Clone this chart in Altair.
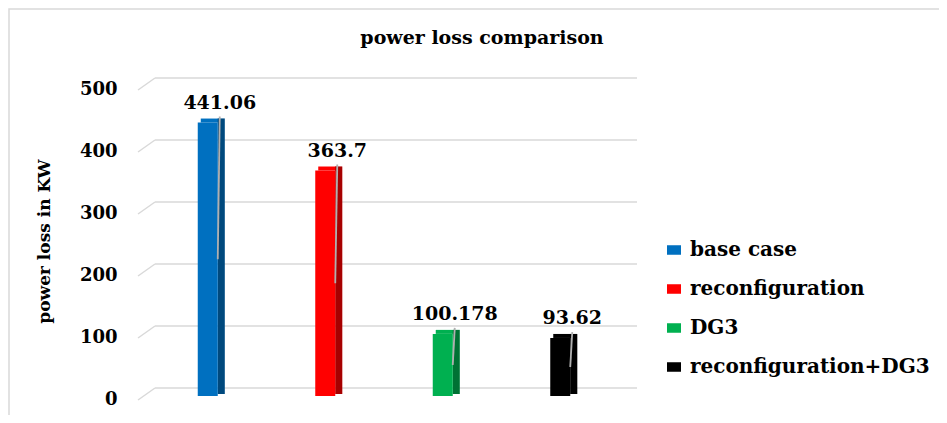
import altair as alt
import pandas as pd

# ---- data ----
categories = ["base case", "reconfiguration", "DG3", "reconfiguration+DG3"]
power_loss = [441.06, 363.7, 100.178, 93.62]
value_labels = ["441.06", "363.7", "100.178", "93.62"]
colors = ["#0070C0", "#FF0000", "#00B050", "#000000"]
y_ticks = [0, 100, 200, 300, 400, 500]
chart_title = "power loss comparison"
y_title = "power loss in KW"

df = pd.DataFrame({
    "cat": categories,
    "idx": list(range(len(categories))),
    "val": power_loss,
    "half": [v / 2 for v in power_loss],
    "lab": value_labels,
})
grid_df = pd.DataFrame({"val": y_ticks})
one = pd.DataFrame({"t": [chart_title]})

FONT = "DejaVu Serif"
GRID = "#d9d9d9"

xs = alt.Scale(domain=[-0.5, 3.5], nice=False, zero=False)
ys = alt.Scale(domain=[0, 500], nice=False)
X = alt.X("idx:Q", scale=xs, axis=None)

Y_AXIS = alt.Axis(
    title=y_title, values=y_ticks, grid=False, domain=False, ticks=False, tickSize=0,
    labelFont=FONT, labelFontSize=18, labelFontWeight="bold", labelColor="#000000",
    labelPadding=27, labelOffset=3,
    titleFont=FONT, titleFontSize=17, titleFontWeight="bold", titleColor="#000000",
    titleX=-100, titleY=155, titleAngle=270, titleAlign="center", titleBaseline="middle",
)
Y = alt.Y("val:Q", scale=ys, axis=Y_AXIS)

color = alt.Color(
    "cat:N",
    scale=alt.Scale(domain=categories, range=colors),
    sort=categories,
    legend=alt.Legend(
        title=None, orient="none", legendX=520, legendY=154,
        symbolType="M-1,-0.68L1,-0.68L1,0.68L-1,0.68Z", symbolSize=196, symbolStrokeWidth=0,
        labelFont=FONT, labelFontSize=20, labelFontWeight="bold", labelColor="#000000",
        labelOffset=6, labelLimit=400, rowPadding=19,
    ),
)

frame = alt.Chart(one).mark_rect(fillOpacity=0, stroke=GRID, strokeWidth=1.5).encode(
    x=alt.value(-135), x2=alt.value(900), y=alt.value(-77), y2=alt.value(500)
)

title_text = alt.Chart(one).mark_text(
    font=FONT, fontSize=19, fontWeight="bold", color="#000000",
    align="center", baseline="alphabetic",
).encode(text="t:N", x=alt.value(338), y=alt.value(-42))

grid_back = alt.Chart(grid_df).mark_rule(color=GRID, strokeWidth=1.5, yOffset=-8).encode(
    y=Y, x=alt.value(11), x2=alt.value(493)
)
grid_slant = alt.Chart(grid_df).mark_rule(color=GRID, strokeWidth=1.5, yOffset=4, y2Offset=-8).encode(
    y=Y, y2="val:Q", x=alt.value(-6), x2=alt.value(11)
)

base = alt.Chart(df)

top_face = base.mark_bar(width=19, xOffset=2.5, yOffset=-4, y2Offset=0).encode(
    x=X, y=Y, y2="val:Q", color=color
)
side_face = base.mark_bar(width=7, xOffset=13.5, yOffset=-4, y2Offset=-2).encode(
    x=X, y=Y, y2=alt.datum(0), color=color
)
side_shade = base.mark_bar(width=7, xOffset=13.5, yOffset=-4, y2Offset=-2, color="#000000", opacity=0.35).encode(
    x=X, y=Y, y2=alt.datum(0)
)
front = base.mark_bar(width=20).encode(x=X, y=Y, y2=alt.datum(0), color=color)

leader = base.mark_rule(color="#b0b0b0", strokeWidth=1.8, xOffset=12, x2Offset=10, yOffset=-6).encode(
    x=X, x2="idx:Q", y=Y, y2="half:Q"
)

labels = base.mark_text(
    font=FONT, fontSize=19, fontWeight="bold", color="#000000",
    align="center", baseline="alphabetic", dx=12, dy=-14,
).encode(x=X, y=Y, text="lab:N")

chart = alt.layer(
    frame, title_text, grid_back, grid_slant, top_face, side_face, side_shade, front, leader, labels
).properties(
    width=480, height=310,
    padding={"left": 136, "top": 78, "right": 315, "bottom": 19},
    autosize="none",
    background="#ffffff",
).configure_view(stroke=None)

chart.save("out.html", embed_options={"renderer": "svg", "actions": False})
